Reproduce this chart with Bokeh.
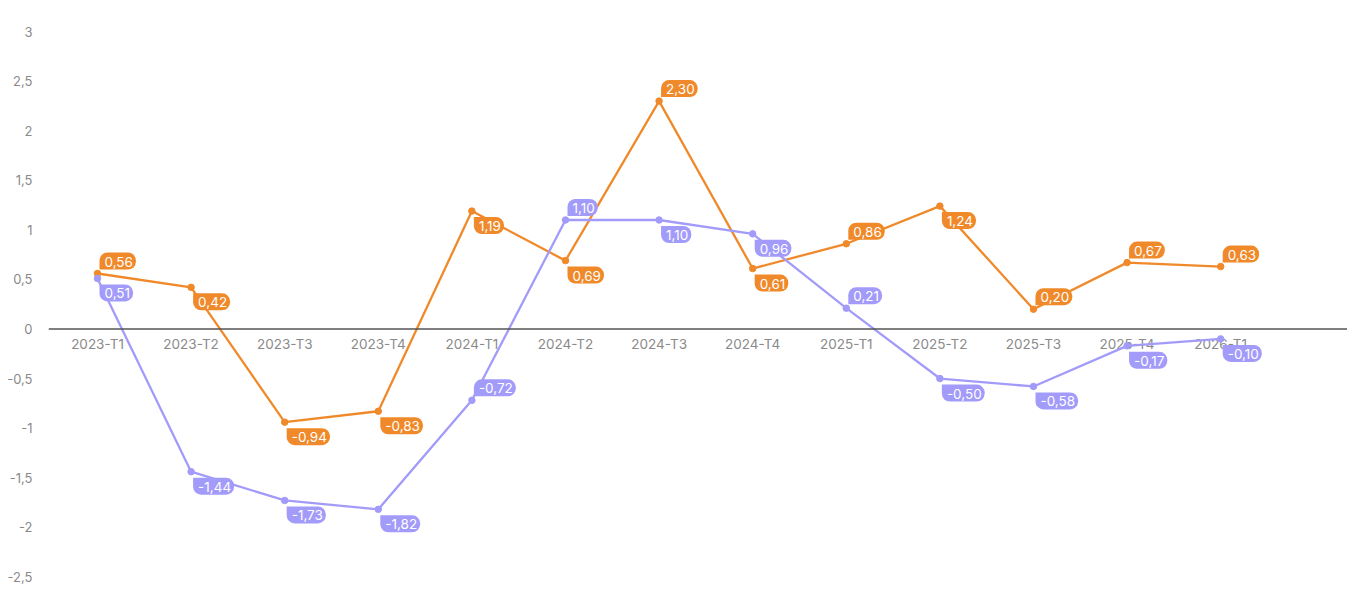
from bokeh.plotting import figure
from bokeh.models import Range1d, FixedTicker, Span, ColumnDataSource
from bokeh.core.properties import value
from bokeh.embed import file_html
from bokeh.resources import INLINE

categories = ["2023-T1", "2023-T2", "2023-T3", "2023-T4", "2024-T1", "2024-T2", "2024-T3",
              "2024-T4", "2025-T1", "2025-T2", "2025-T3", "2025-T4", "2026-T1"]
orange_values = [0.56, 0.42, -0.94, -0.83, 1.19, 0.69, 2.30, 0.61, 0.86, 1.24, 0.20, 0.67, 0.63]
purple_values = [0.51, -1.44, -1.73, -1.82, -0.72, 1.10, 1.10, 0.96, 0.21, -0.50, -0.58, -0.17, -0.10]
y_ticks = [-2.5, -2, -1.5, -1, -0.5, 0, 0.5, 1, 1.5, 2, 2.5, 3]

# label placement (style): "a" above, "b" below
orange_place = ["a", "b", "b", "b", "b", "b", "a", "b", "a", "b", "a", "a", "a"]
purple_place = ["b", "b", "b", "b", "a", "a", "b", "b", "a", "b", "b", "b", "b"]

ORANGE = "#F0892A"
PURPLE = "#A29BFA"
FONT = "Inter"


def fmt(v):
    return f"{v:.2f}".replace(".", ",")


def tick_fmt(v):
    if float(v).is_integer():
        return str(int(v))
    return str(v).replace(".", ",")


xs = list(range(len(categories)))

p = figure(width=1347, height=590, output_backend="svg", toolbar_location=None,
           x_range=Range1d(-0.5235, 13.355), y_range=Range1d(-2.639, 3.315),
           min_border_left=48, min_border_right=0, min_border_top=0, min_border_bottom=0)
p.outline_line_color = None
p.xgrid.visible = False
p.ygrid.visible = False
p.xaxis.visible = False

ya = p.yaxis[0]
ya.ticker = FixedTicker(ticks=y_ticks)
ya.major_label_overrides = {t: tick_fmt(t) for t in y_ticks}
ya.axis_line_color = None
ya.major_tick_line_color = None
ya.minor_tick_line_color = None
ya.major_tick_out = 0
ya.major_tick_in = 0
ya.major_label_standoff = 16
ya.major_label_text_color = "#8a8a8a"
ya.major_label_text_font = FONT
ya.major_label_text_font_size = "13px"

# category labels just under the zero line
p.text(x=xs, y=[0] * len(xs), text=categories, anchor="top_center", y_offset=7,
       text_color="#8a8a8a", text_font=value(FONT), text_font_size="13.5px")

p.add_layout(Span(location=0, dimension="width", line_color="#555555", line_width=1.3))

for vals, col in ((orange_values, ORANGE), (purple_values, PURPLE)):
    p.line(xs, vals, line_color=col, line_width=2.3)
    p.scatter(xs, vals, size=6.5, fill_color=col, line_color=col)


def subset(vals, places, where):
    idx = [i for i, pl in enumerate(places) if pl == where]
    return ColumnDataSource(dict(x=idx, y=[vals[i] for i in idx], t=[fmt(vals[i]) for i in idx]))


for vals, places, col in ((orange_values, orange_place, ORANGE), (purple_values, purple_place, PURPLE)):
    p.text(x="x", y="y", text="t", source=subset(vals, places, "a"), anchor="bottom_left",
           x_offset=2, y_offset=-4, text_color="white", text_font=value(FONT), text_font_size="13.5px",
           background_fill_color=col, border_radius=(8, 8, 8, 0), padding=(5, 3, 4, 3))
    p.text(x="x", y="y", text="t", source=subset(vals, places, "b"), anchor="top_left",
           x_offset=2, y_offset=6, text_color="white", text_font=value(FONT), text_font_size="13.5px",
           background_fill_color=col, border_radius=(0, 8, 8, 8), padding=(5, 3, 4, 3))

open("out.html", "w").write(file_html(p, INLINE))
